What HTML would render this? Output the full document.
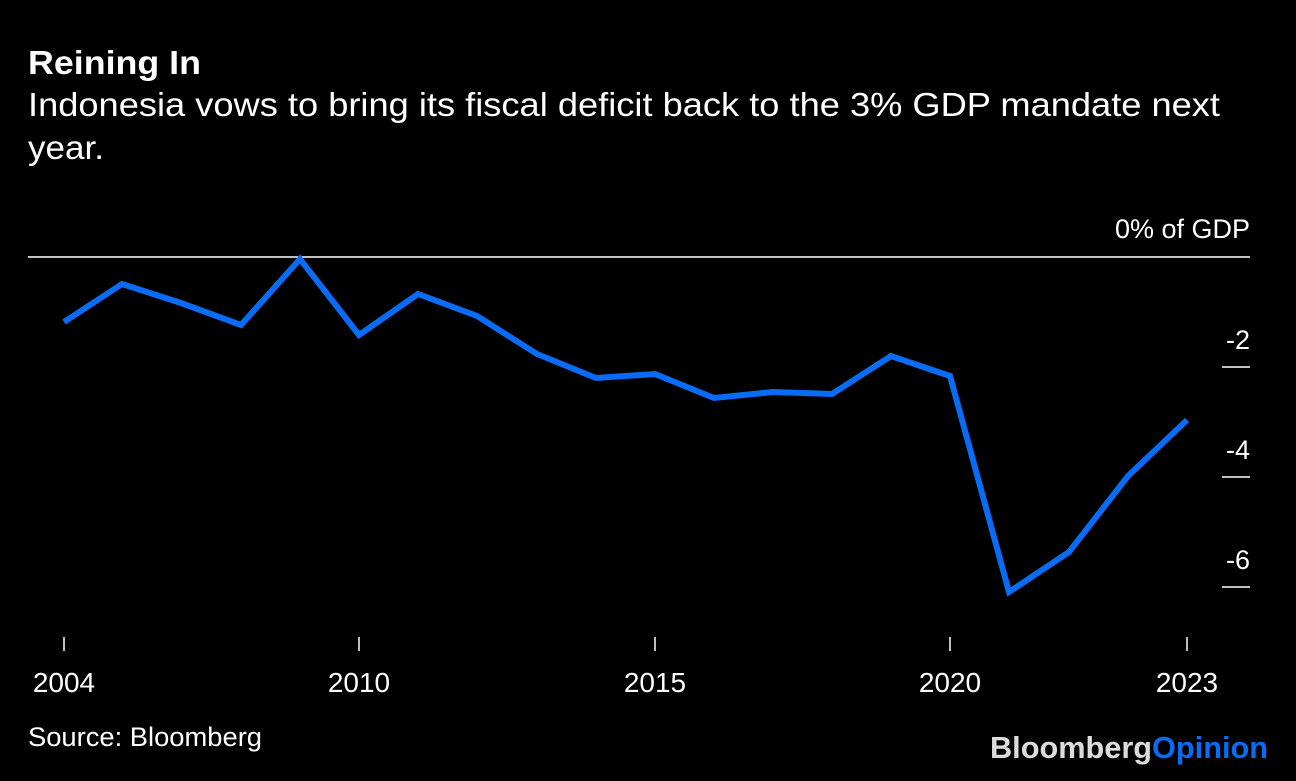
<!DOCTYPE html>
<html><head><meta charset="utf-8"><style>
html,body{margin:0;padding:0;background:#000;}
body{width:1296px;height:776px;overflow:hidden;font-family:"Liberation Sans",sans-serif;}
</style></head><body>
<svg width="1296" height="776" xmlns="http://www.w3.org/2000/svg" font-family="Liberation Sans, sans-serif">
<rect width="1296" height="776" fill="#000"/>
<text x="28" y="74" fill="#fff" font-size="33" font-weight="bold" textLength="173" lengthAdjust="spacingAndGlyphs">Reining In</text>
<text x="28" y="116" fill="#fff" font-size="33" textLength="1192" lengthAdjust="spacingAndGlyphs">Indonesia vows to bring its fiscal deficit back to the 3% GDP mandate next</text>
<text x="28" y="159" fill="#fff" font-size="33" textLength="76" lengthAdjust="spacingAndGlyphs">year.</text>
<text x="1250" y="238" fill="#fff" font-size="27" text-anchor="end">0% of GDP</text>
<line x1="28" y1="257" x2="1250" y2="257" stroke="#fff" stroke-width="1.5"/>
<g fill="#fff" font-size="27" text-anchor="end">
<text x="1250" y="349">-2</text><text x="1250" y="459">-4</text><text x="1250" y="569">-6</text>
</g>
<g stroke="#fff" stroke-width="1.5">
<line x1="1222" y1="367" x2="1250" y2="367"/><line x1="1222" y1="477" x2="1250" y2="477"/><line x1="1222" y1="587" x2="1250" y2="587"/>
<line x1="64" y1="637" x2="64" y2="651"/><line x1="359" y1="637" x2="359" y2="651"/><line x1="655" y1="637" x2="655" y2="651"/><line x1="950" y1="637" x2="950" y2="651"/><line x1="1187" y1="637" x2="1187" y2="651"/>
</g>
<g fill="#fff" font-size="28" text-anchor="middle">
<text x="64" y="692">2004</text><text x="359" y="692">2010</text><text x="655" y="692">2015</text><text x="950" y="692">2020</text><text x="1187" y="692">2023</text>
</g>
<polyline fill="none" stroke="#0a6cf5" stroke-width="6" stroke-linejoin="miter" points="64,322 122,284 181,303 241,325 300,259 359,335 418,294 477,316 537,354 596,378 655,374 714,398 773,392 832,394 891,356 950,376 1009,592 1069,552 1128,476 1187,420"/>
<text x="28" y="746" fill="#fff" font-size="27" textLength="234" lengthAdjust="spacingAndGlyphs">Source: Bloomberg</text>
<text x="990" y="758" font-size="31" font-weight="bold" textLength="278" lengthAdjust="spacingAndGlyphs"><tspan fill="#dcdcdc">Bloomberg</tspan><tspan fill="#0a6cf5">Opinion</tspan></text>
</svg>
</body></html>
